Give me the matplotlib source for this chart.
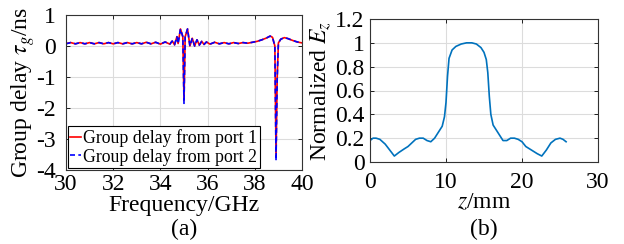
import matplotlib
matplotlib.use('Agg')
import matplotlib.pyplot as plt

# group delay data (a)
freq = [30.0, 30.2, 30.4, 30.6, 30.8, 31.0, 31.2, 31.4, 31.6, 31.8, 32.0, 32.2, 32.4, 32.6,
        32.8, 33.0, 33.2, 33.4, 33.6, 33.8, 34.0, 34.2, 34.4, 34.5, 34.6, 34.7, 34.75, 34.85,
        34.95, 35.0, 35.05, 35.15, 35.25, 35.35, 35.45, 35.55, 35.65, 35.75, 35.85, 35.95,
        36.1, 36.3, 36.5, 36.7, 36.9, 37.1, 37.3, 37.5, 37.7, 37.9, 38.1, 38.3, 38.5, 38.65,
        38.75, 38.85, 38.9, 38.95, 39.0, 39.1, 39.25, 39.4, 39.6, 39.8, 40.0]
delay_p1 = [0.08, 0.11, 0.07, 0.11, 0.07, 0.11, 0.07, 0.11, 0.07, 0.11, 0.07, 0.11, 0.07, 0.11,
            0.07, 0.11, 0.07, 0.12, 0.07, 0.12, 0.06, 0.13, 0.06, 0.16, 0.04, 0.3, 0.08, 0.55,
            0.3, -1.75, 0.3, 0.55, 0.0, 0.25, 0.0, 0.2, 0.03, 0.15, 0.05, 0.13,
            0.06, 0.12, 0.07, 0.11, 0.07, 0.11, 0.08, 0.11, 0.09, 0.12, 0.15, 0.2, 0.26, 0.32,
            0.28, 0.0, -3.55, -1.0, 0.1, 0.22, 0.27, 0.24, 0.18, 0.13, 0.1]
delay_p2 = [0.07, 0.11, 0.07, 0.11, 0.07, 0.11, 0.07, 0.11, 0.07, 0.11, 0.07, 0.11, 0.07, 0.11,
            0.07, 0.11, 0.07, 0.12, 0.07, 0.12, 0.06, 0.13, 0.06, 0.16, 0.04, 0.3, 0.08, 0.55,
            0.3, -1.85, 0.3, 0.55, 0.0, 0.25, 0.0, 0.2, 0.03, 0.15, 0.05, 0.13,
            0.06, 0.12, 0.07, 0.11, 0.07, 0.11, 0.08, 0.11, 0.09, 0.12, 0.15, 0.2, 0.26, 0.32,
            0.28, 0.0, -3.7, -1.0, 0.1, 0.22, 0.27, 0.24, 0.18, 0.13, 0.1]

# field profile data (b)
z_mm = [0.0, 0.4, 0.8, 1.3, 2.0, 2.6, 3.2, 3.8, 4.5, 5.0, 5.5, 6.0, 6.5, 7.0, 7.5, 8.0,
        8.5, 9.0, 9.5, 9.8, 10.0, 10.2, 10.4, 10.8, 11.3, 12.0, 12.7, 13.4, 14.0, 14.6,
        15.0, 15.3, 15.5, 15.7, 15.9, 16.2, 16.6, 17.0, 17.5, 18.0, 18.5, 19.0, 19.5,
        20.0, 20.5, 21.0, 21.5, 22.0, 22.6, 23.2, 23.8, 24.4, 25.0, 25.4, 25.8]
ez_norm = [0.18, 0.2, 0.2, 0.19, 0.15, 0.1, 0.05, 0.08, 0.11, 0.13, 0.16, 0.19, 0.2, 0.2, 0.18, 0.17,
           0.2, 0.25, 0.3, 0.38, 0.5, 0.72, 0.87, 0.94, 0.97, 0.99, 1.0, 1.0, 0.99, 0.96,
           0.92, 0.86, 0.75, 0.55, 0.4, 0.31, 0.27, 0.23, 0.18, 0.18, 0.2, 0.2, 0.19,
           0.17, 0.13, 0.11, 0.09, 0.07, 0.05, 0.1, 0.16, 0.19, 0.2, 0.19, 0.17]

plt.rcParams['font.family'] = 'Liberation Serif'
plt.rcParams['mathtext.fontset'] = 'stix'
plt.rcParams['axes.unicode_minus'] = False
plt.rcParams['font.size'] = 17

fig = plt.figure(figsize=(6.24, 2.44), dpi=100)
ax1 = fig.add_axes([66/624, 1 - 170/244, 236/624, 155/244])
ax2 = fig.add_axes([370/624, 1 - 162/244, 228/624, 143/244])

ax1.plot(freq, delay_p1, color='red', lw=1.2, label='Group delay from port 1')
ax1.plot(freq, delay_p2, color='blue', lw=1.2, ls='--', dashes=(3, 2), label='Group delay from port 2')
ax1.set_xlim(30, 40)
ax1.set_ylim(-4, 1)
ax1.set_xticks([30, 32, 34, 36, 38, 40])
ax1.set_yticks([-4, -3, -2, -1, 0, 1])
ax1.set_xlabel('Frequency/GHz', labelpad=0)
ax1.set_ylabel(r'Group delay $\tau_g$/ns', labelpad=-1)
ax1.tick_params(axis='x', pad=3)
ax1.tick_params(axis='y', pad=7.5)
leg = ax1.legend(loc='lower left', fontsize=12.8, handlelength=0.6, handletextpad=0.1,
                 borderaxespad=0.1, borderpad=0.15, labelspacing=0.05, fancybox=False,
                 edgecolor='black', framealpha=1)
leg.get_frame().set_linewidth(0.8)

ax2.plot(z_mm, ez_norm, color='#0072BD', lw=1.2)
ax2.set_xlim(0, 30)
ax2.set_ylim(0, 1.2)
ax2.set_xticks([0, 10, 20, 30])
ax2.set_yticks([0, 0.2, 0.4, 0.6, 0.8, 1, 1.2])
ax2.set_yticklabels(['0', '0.2', '0.4', '0.6', '0.8', '1', '1.2'])
ax2.set_xlabel(r'$z$/mm', labelpad=0)
ax2.set_ylabel(r'Normalized $E_z$', labelpad=1)
ax2.tick_params(axis='x', pad=7)
ax2.tick_params(axis='y', pad=4)

for ax in (ax1, ax2):
    ax.grid(True, color='#dcdcdc', lw=0.8)
    ax.set_axisbelow(True)
    ax.tick_params(direction='in', length=3, width=0.6, top=True, right=True)
    for s in ax.spines.values():
        s.set_linewidth(0.8)
        s.set_color('#333333')

fig.text(184/624, 1 - 229/244, '(a)', ha='center', va='center', fontsize=17)
fig.text(484/624, 1 - 229/244, '(b)', ha='center', va='center', fontsize=17)

fig.savefig('out.png', dpi=100)
